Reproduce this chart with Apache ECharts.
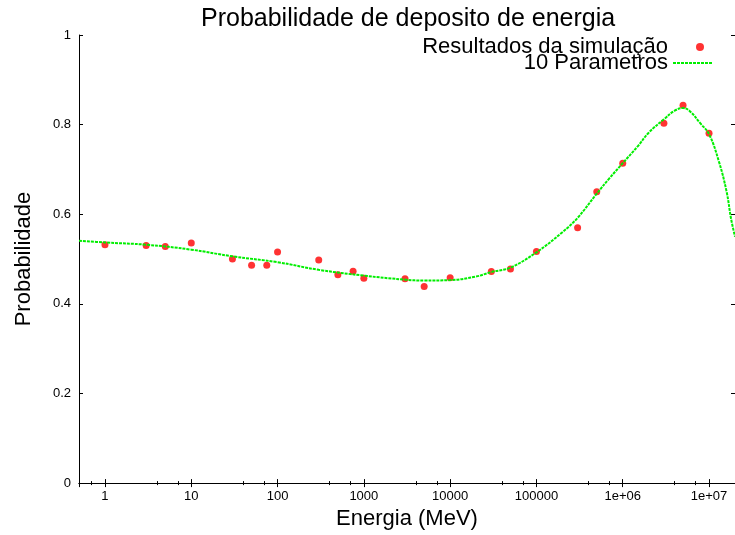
<!DOCTYPE html>
<html>
<head>
<meta charset="utf-8">
<script src="https://cdn.jsdelivr.net/npm/echarts@6/dist/echarts.min.js"></script>
<style>
  html, body { margin: 0; padding: 0; background: #ffffff; }
  #chart { width: 735px; height: 535px; }
</style>
</head>
<body>
<div id="chart"></div>
<script>
// ---- data ----
const simEnergy = [1, 3, 5, 10, 30, 50, 75, 100, 300, 500, 750, 1000, 3000, 5000, 10000, 30000, 50000, 100000, 300000, 500000, 1000000, 3000000, 5000000, 10000000];
const simProb   = [0.532, 0.530, 0.528, 0.536, 0.500, 0.486, 0.486, 0.516, 0.498, 0.465, 0.473, 0.457, 0.456, 0.439, 0.458, 0.472, 0.478, 0.517, 0.570, 0.650, 0.714, 0.803, 0.843, 0.781];

const fitEnergy = [0.5, 1, 3, 10, 30, 100, 300, 1000, 3000, 5000, 10000, 20000, 30000, 50000, 100000, 200000, 300000, 500000, 700000, 1000000, 1500000, 2000000, 3000000, 4000000, 5000000, 6000000, 8000000, 10000000, 13000000, 16000000, 18000000, 20000000];
const fitProb   = [0.541, 0.537, 0.532, 0.521, 0.506, 0.493, 0.476, 0.463, 0.454, 0.452, 0.453, 0.461, 0.471, 0.481, 0.515, 0.560, 0.592, 0.646, 0.680, 0.714, 0.752, 0.782, 0.812, 0.831, 0.837, 0.830, 0.802, 0.779, 0.718, 0.650, 0.590, 0.550];

const xTickLabels = ['1', '10', '100', '1000', '10000', '100000', '1e+06', '1e+07'];
const yTickLabels = ['0', '0.2', '0.4', '0.6', '0.8', '1'];

const titleText = 'Probabilidade de deposito de energia';
const xName = 'Energia (MeV)';
const yName = 'Probabilidade';
const seriesNames = ['Resultados da simulação', '10 Parametros'];

// ---- chart ----
const FONT = 'Liberation Sans, Arial, sans-serif';
const chart = echarts.init(document.getElementById('chart'), null, { renderer: 'canvas' });

function xLabel(v) {
  const e = Math.log10(v);
  const r = Math.round(e);
  if (Math.abs(e - r) < 1e-6 && r >= 0 && r < xTickLabels.length) return xTickLabels[r];
  return '';
}
function yLabel(v) {
  const i = Math.round(v / 0.2);
  return (Math.abs(v - i * 0.2) < 1e-6 && yTickLabels[i] !== undefined) ? yTickLabels[i] : '';
}

// dashed-line legend icon (10 short dashes, 3 on / 1 off)
let dashPath = 'path://';
for (let k = 0; k < 10; k++) dashPath += 'M' + (k * 4) + ',0h3v2h-3z';

const axisLineStyle = { color: '#000000', width: 1 };
const tickStyle = { color: '#000000', width: 1 };

const option = {
  backgroundColor: '#ffffff',
  animation: false,
  title: {
    text: titleText,
    left: 196, top: 2,
    textStyle: { fontFamily: FONT, fontSize: 25, fontWeight: 'normal', color: '#000000' }
  },
  legend: [
    {
      data: [seriesNames[0]],
      right: 31, top: 36, padding: 0,
      align: 'right', orient: 'vertical',
      itemWidth: 54, itemHeight: 8,
      textStyle: { fontFamily: FONT, fontSize: 22, color: '#000000', lineHeight: 22 }
    },
    {
      data: [{ name: seriesNames[1], icon: dashPath }],
      right: 23, top: 52, padding: 0,
      align: 'right', orient: 'vertical',
      itemWidth: 39, itemHeight: 2,
      symbolKeepAspect: false,
      textStyle: { fontFamily: FONT, fontSize: 22, color: '#000000', lineHeight: 22 }
    }
  ],
  grid: { left: 79, top: 35, right: -3, bottom: 51, containLabel: false },
  xAxis: [
    {
      type: 'log', logBase: 10, min: 0.5, max: 20000000,
      position: 'bottom',
      name: xName, nameLocation: 'middle', nameGap: 20,
      nameTextStyle: { fontFamily: FONT, fontSize: 22, color: '#000000' },
      axisLine: { show: true, lineStyle: axisLineStyle },
      axisTick: { show: true, inside: true, length: 4, lineStyle: tickStyle },
      minorTick: { show: true, splitNumber: 3, length: 2, lineStyle: tickStyle },
      axisLabel: { fontFamily: FONT, fontSize: 13, color: '#000000', margin: 7, formatter: xLabel, showMinLabel: false, showMaxLabel: false },
      splitLine: { show: false }
    },
    {
      type: 'log', logBase: 10, min: 0.5, max: 20000000,
      position: 'top',
      axisLine: { show: true, lineStyle: axisLineStyle },
      axisTick: { show: true, inside: true, length: 4, lineStyle: tickStyle },
      minorTick: { show: true, splitNumber: 3, length: 2, lineStyle: tickStyle },
      axisLabel: { show: false },
      splitLine: { show: false }
    }
  ],
  yAxis: [
    {
      type: 'value', min: 0, max: 1, interval: 0.2,
      position: 'left',
      name: yName, nameLocation: 'middle', nameGap: 44, nameRotate: 90,
      nameTextStyle: { fontFamily: FONT, fontSize: 22, color: '#000000' },
      axisLine: { show: true, lineStyle: axisLineStyle },
      axisTick: { show: true, inside: true, length: 4, lineStyle: tickStyle },
      axisLabel: { fontFamily: FONT, fontSize: 13, color: '#000000', margin: 8, formatter: yLabel },
      splitLine: { show: false }
    },
    {
      type: 'value', min: 0, max: 1, interval: 0.2,
      position: 'right',
      axisLine: { show: true, lineStyle: axisLineStyle },
      axisTick: { show: true, inside: true, length: 4, lineStyle: tickStyle },
      axisLabel: { show: false },
      splitLine: { show: false }
    }
  ],
  series: [
    {
      name: seriesNames[0],
      type: 'scatter',
      xAxisIndex: 0, yAxisIndex: 0,
      data: simEnergy.map((e, i) => [e, simProb[i]]),
      symbol: 'circle', symbolSize: 7,
      itemStyle: { color: '#ff0000' }
    },
    {
      name: seriesNames[1],
      type: 'line',
      xAxisIndex: 0, yAxisIndex: 0,
      data: fitEnergy.map((e, i) => [e, fitProb[i]]),
      showSymbol: false, symbol: 'none',
      smooth: 0.4,
      clip: true,
      lineStyle: { color: '#00ee00', width: 2, type: [3, 1] },
      itemStyle: { color: '#00ee00' }
    }
  ]
};
chart.setOption(option);
</script>
</body>
</html>
